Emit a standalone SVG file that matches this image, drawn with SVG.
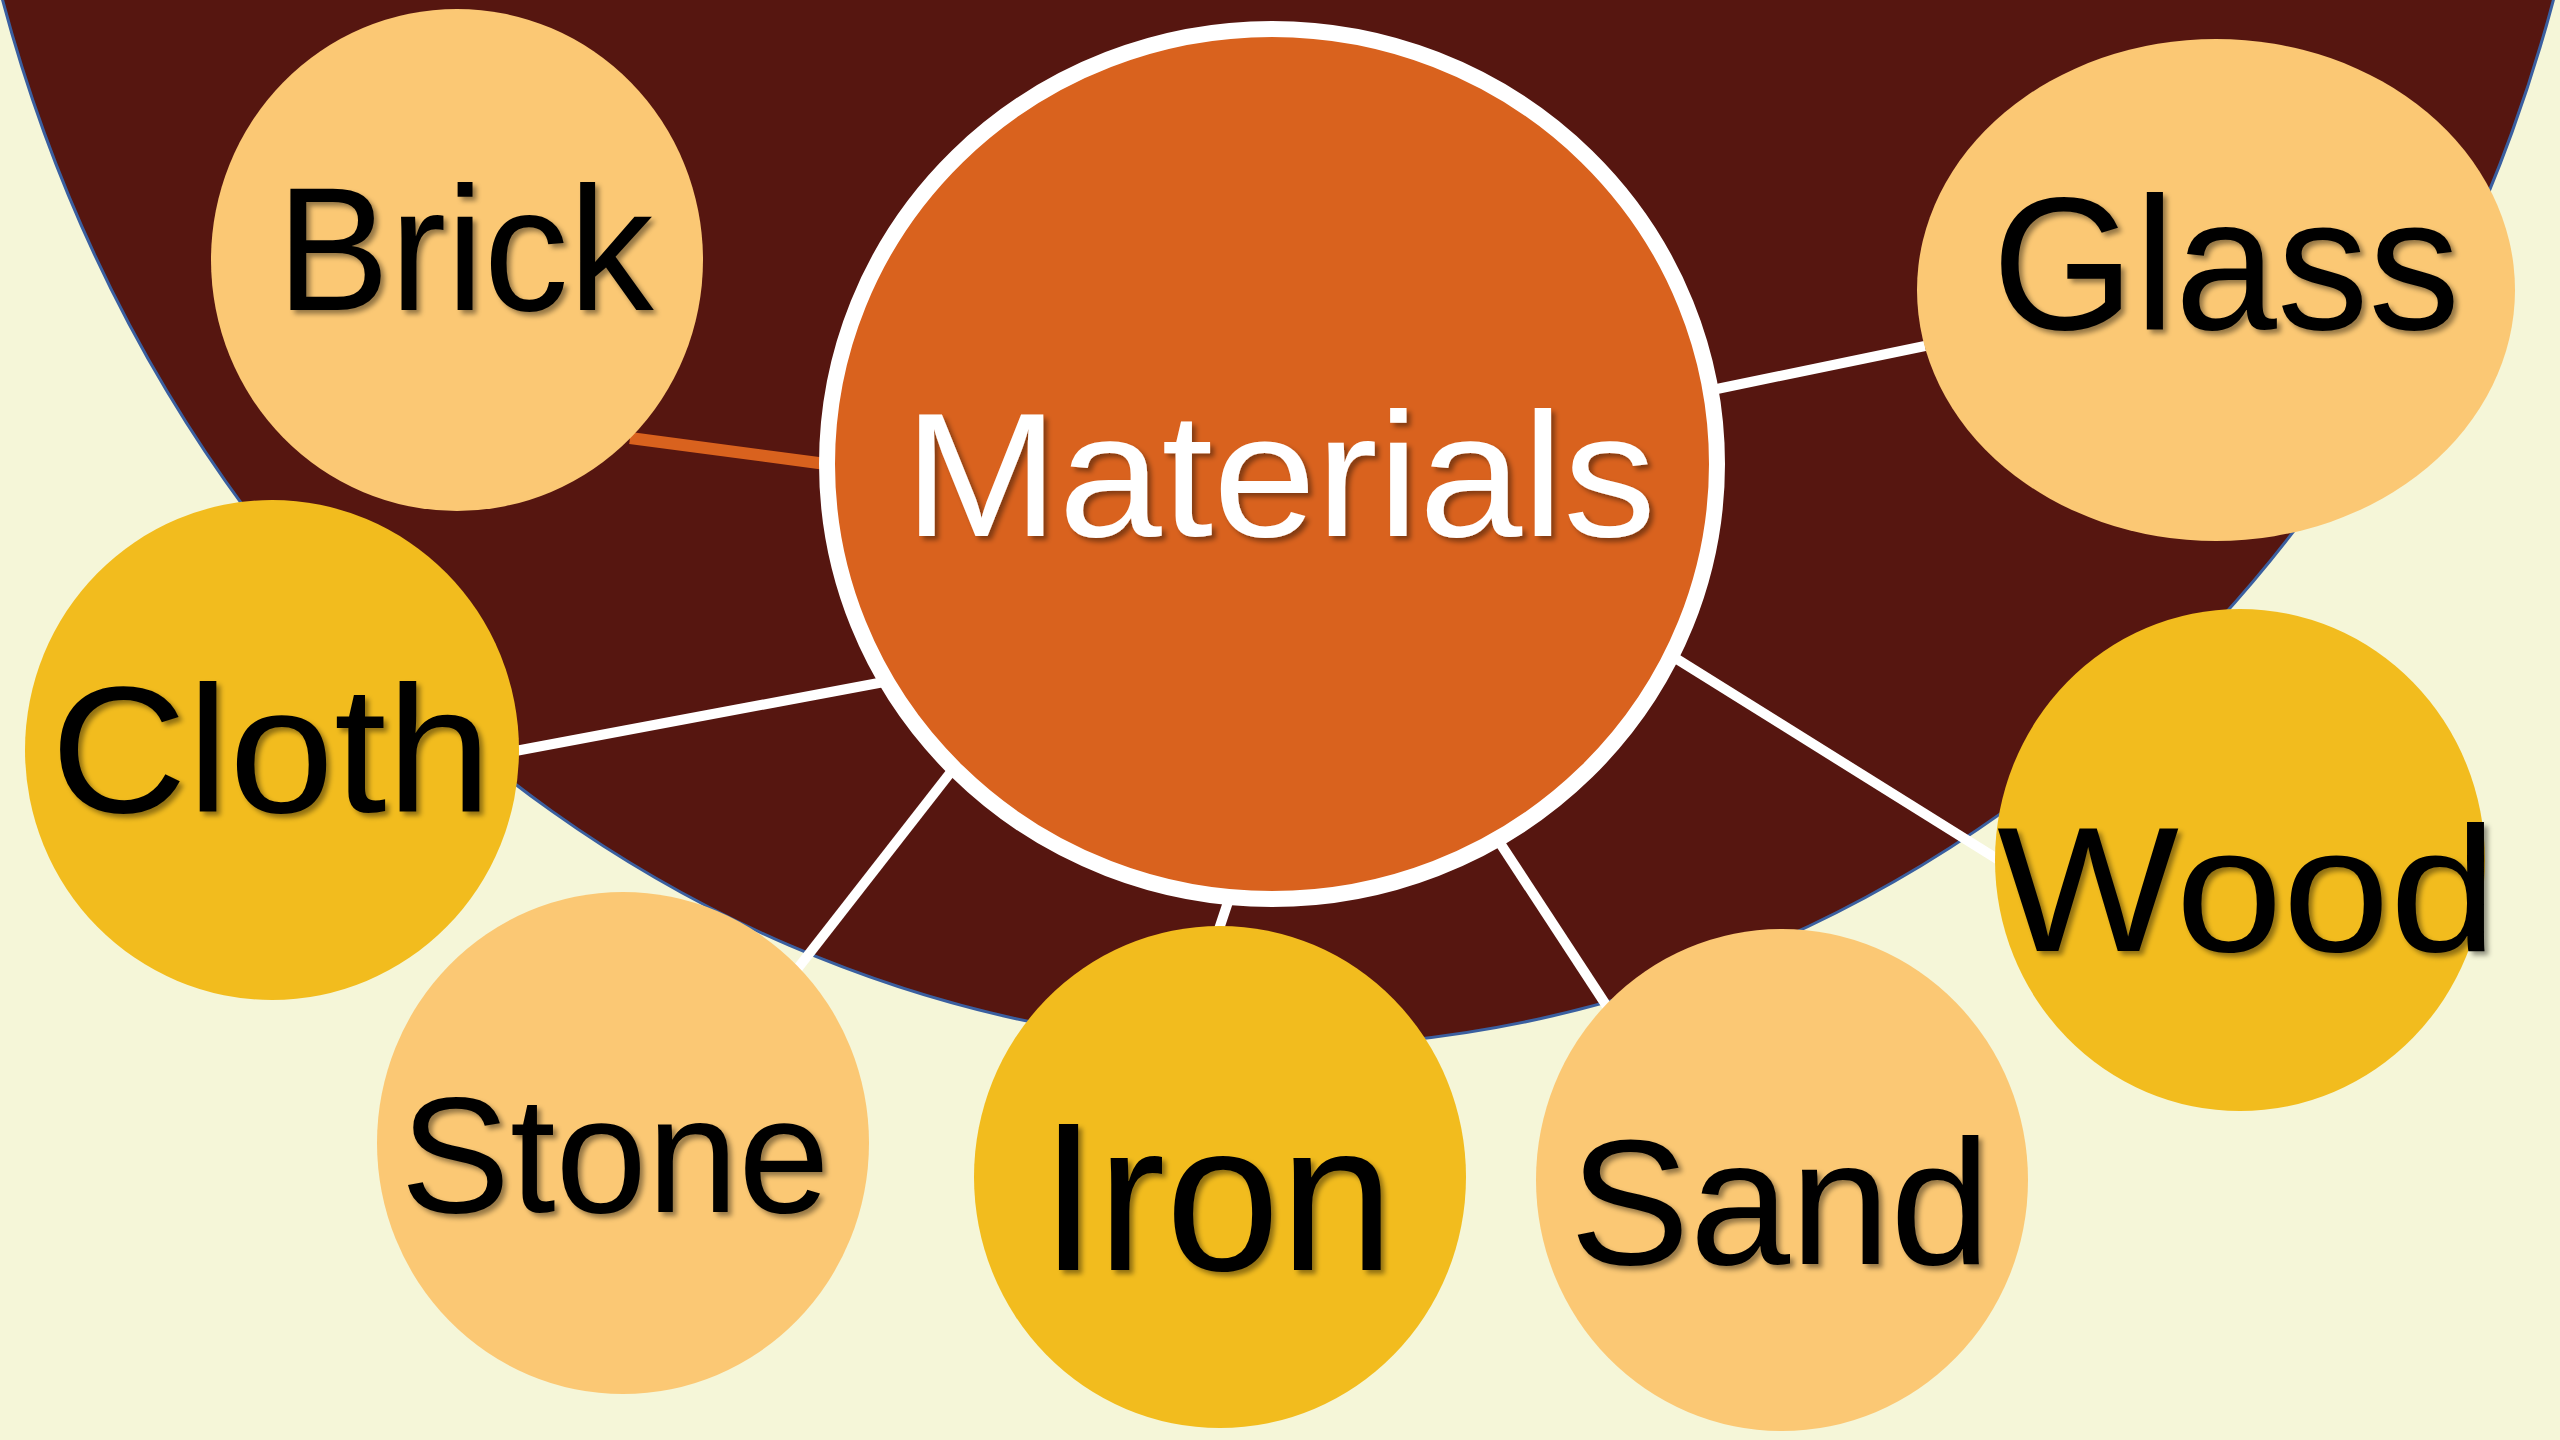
<svg xmlns="http://www.w3.org/2000/svg" width="2560" height="1440" viewBox="0 0 2560 1440">
  <defs>
    <filter id="shadow" x="-10%" y="-10%" width="120%" height="130%">
      <feDropShadow dx="4" dy="4" stdDeviation="2.5" flood-color="#000000" flood-opacity="0.4"/>
    </filter>
    <style>
      .lbl { font-family: "Liberation Sans", Arial, sans-serif; fill: #000000; text-anchor: middle; filter: url(#shadow); }
      .light { fill: #FBC874; }
      .gold { fill: #F2BC1E; }
      .conn { stroke: #FFFFFF; stroke-width: 10; fill: none; }
    </style>
  </defs>
  <rect x="0" y="0" width="2560" height="1440" fill="#F5F6D8"/>
  <ellipse id="backdrop" cx="1278" cy="-400" rx="1327" ry="1447" fill="#561610" stroke="#3A5FA0" stroke-width="3"/>

  <g id="connectors">
    <line x1="630" y1="438" x2="826" y2="464" stroke="#D9621E" stroke-width="12"/>
    <line class="conn" x1="1712" y1="390" x2="1925" y2="346"/>
    <line class="conn" x1="510" y1="752" x2="884" y2="682"/>
    <line class="conn" x1="798" y1="968" x2="954" y2="768"/>
    <line class="conn" x1="1218" y1="932" x2="1228" y2="902"/>
    <line class="conn" x1="1610" y1="1011" x2="1498" y2="840"/>
    <line class="conn" x1="1672" y1="656" x2="2002" y2="862"/>
  </g>

  <g id="node-brick">
    <ellipse class="light" cx="457" cy="260" rx="246" ry="251"/>
    <text class="lbl" x="465" y="310" font-size="176" textLength="377" lengthAdjust="spacingAndGlyphs">Brick</text>
  </g>
  <g id="node-glass">
    <ellipse class="light" cx="2216" cy="290" rx="299" ry="251"/>
    <text class="lbl" x="2226" y="329" font-size="190" textLength="468" lengthAdjust="spacingAndGlyphs">Glass</text>
  </g>
  <g id="node-cloth">
    <ellipse class="gold" cx="272" cy="750" rx="247" ry="250"/>
    <text class="lbl" x="271" y="812" font-size="180" textLength="441" lengthAdjust="spacingAndGlyphs">Cloth</text>
  </g>
  <g id="node-wood">
    <ellipse class="gold" cx="2240" cy="860" rx="245" ry="251"/>
    <text class="lbl" x="2247" y="951" font-size="178" textLength="500" lengthAdjust="spacingAndGlyphs">Wood</text>
  </g>
  <g id="node-stone">
    <ellipse class="light" cx="623" cy="1143" rx="246" ry="251"/>
    <text class="lbl" x="615" y="1212" font-size="165" textLength="429" lengthAdjust="spacingAndGlyphs">Stone</text>
  </g>
  <g id="node-iron">
    <ellipse class="gold" cx="1220" cy="1177" rx="246" ry="251"/>
    <text class="lbl" x="1217" y="1270" font-size="212" textLength="354" lengthAdjust="spacingAndGlyphs">Iron</text>
  </g>
  <g id="node-sand">
    <ellipse class="light" cx="1782" cy="1180" rx="246" ry="251"/>
    <text class="lbl" x="1780" y="1264" font-size="178" textLength="421" lengthAdjust="spacingAndGlyphs">Sand</text>
  </g>

  <g id="node-materials">
    <ellipse cx="1272" cy="464" rx="445" ry="435" fill="#D9621E" stroke="#FFFFFF" stroke-width="16"/>
    <text class="lbl" x="1280" y="536" font-size="176" textLength="752" lengthAdjust="spacingAndGlyphs" style="fill:#FFFFFF">Materials</text>
  </g>
</svg>
